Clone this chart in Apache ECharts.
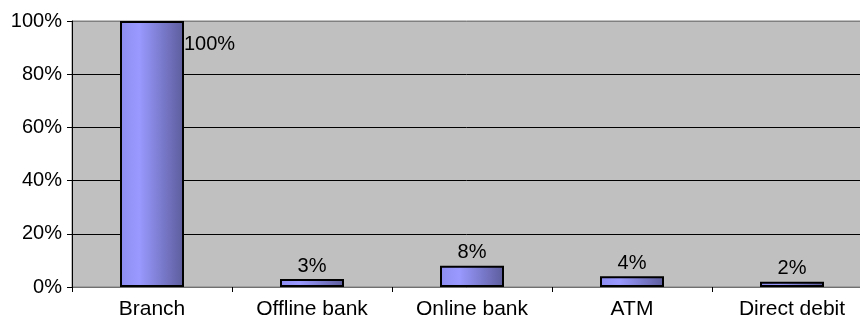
<!DOCTYPE html>
<html>
<head>
<meta charset="utf-8">
<script src="https://cdn.jsdelivr.net/npm/echarts@6/dist/echarts.min.js"></script>
<style>
  html, body { margin: 0; padding: 0; background: #fff; }
  #chart { width: 860px; height: 318px; }
</style>
</head>
<body>
<div id="chart"></div>
<script>
var categories = ['Branch', 'Offline bank', 'Online bank', 'ATM', 'Direct debit'];
var shares = [100, 3, 8, 4, 2];
var yTicks = [0, 20, 40, 60, 80, 100];

var chart = echarts.init(document.getElementById('chart'));

var barData = shares.map(function (v, i) {
  var item = { value: v };
  // the tallest bar carries its label beside the top right corner
  if (v >= 100) {
    item.label = { position: ['100%', 13], align: 'left', verticalAlign: 'top', distance: 0 };
  }
  return item;
});

chart.setOption({
  animation: false,
  textStyle: { fontFamily: 'Liberation Sans, Arial, sans-serif' },
  grid: {
    left: 72,
    top: 21,
    width: 800,
    height: 266,
    outerBoundsMode: 'none',
    containLabel: false,
    show: true,
    backgroundColor: '#c0c0c0',
    borderColor: '#808080',
    borderWidth: 1
  },
  xAxis: {
    type: 'category',
    data: categories,
    axisLine: { lineStyle: { color: '#707070', width: 1 } },
    axisTick: { show: true, length: 5, lineStyle: { color: '#000' } },
    axisLabel: { color: '#000', fontSize: 21, margin: 12 },
    splitLine: { show: false }
  },
  yAxis: {
    type: 'value',
    min: yTicks[0],
    max: yTicks[yTicks.length - 1],
    interval: 20,
    axisLine: { show: true, lineStyle: { color: '#000', width: 1 } },
    axisTick: { show: true, length: 5, lineStyle: { color: '#000' } },
    axisLabel: { color: '#000', fontSize: 20, margin: 10, formatter: '{value}%' },
    splitLine: {
      show: true,
      lineStyle: { color: ['#000', '#000', '#000', '#000', '#000', '#808080'], width: 1 }
    }
  },
  series: [{
    type: 'bar',
    data: barData,
    barWidth: 64,
    itemStyle: {
      color: new echarts.graphic.LinearGradient(0, 0, 1, 0, [
        { offset: 0, color: '#8c8cf0' },
        { offset: 0.3, color: '#9999ff' },
        { offset: 1, color: '#5c5c9c' }
      ]),
      borderColor: '#000',
      borderWidth: 2
    },
    label: {
      show: true,
      position: 'top',
      distance: 3,
      color: '#000',
      fontSize: 20,
      formatter: '{c}%'
    }
  }]
});
</script>
</body>
</html>
